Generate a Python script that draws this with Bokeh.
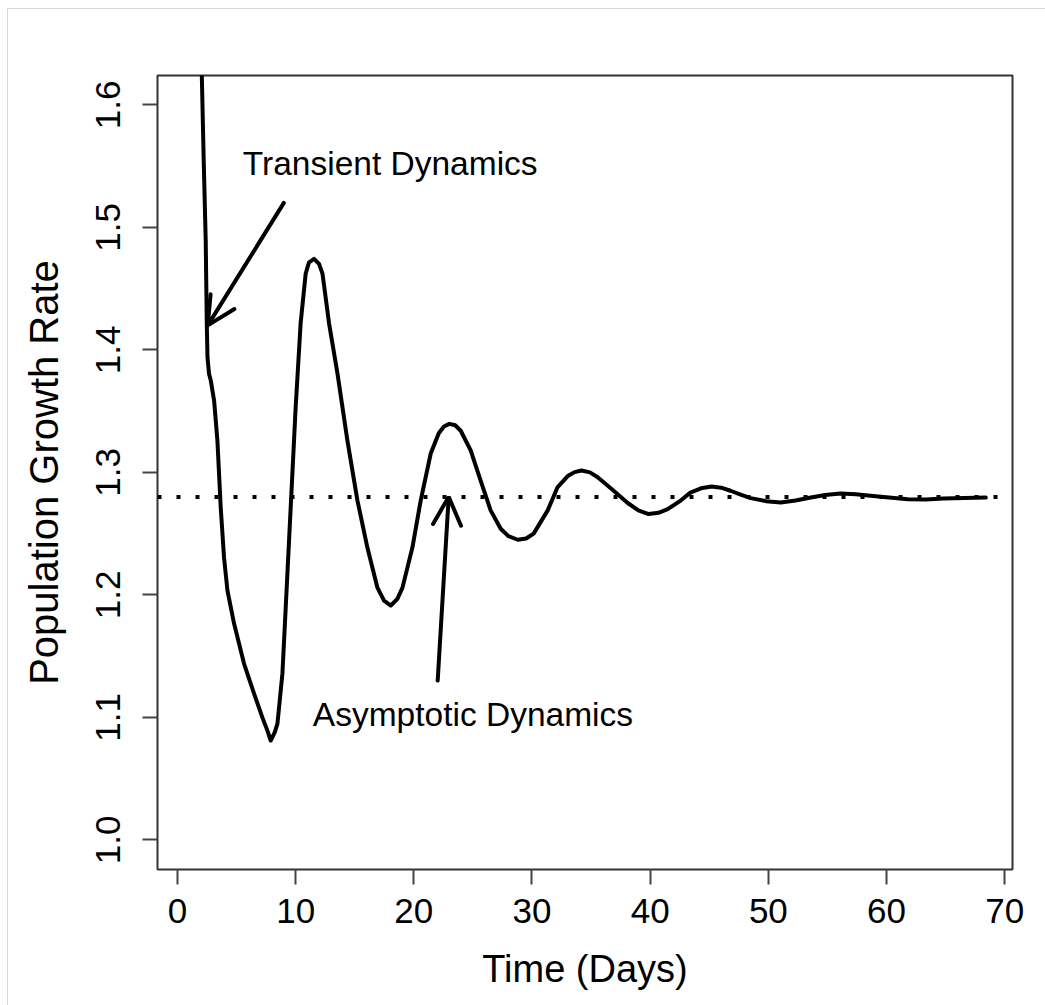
from bokeh.plotting import figure
from bokeh.models import Range1d, FixedTicker, Span, Arrow, OpenHead, ColumnDataSource
from bokeh.core.properties import value
from bokeh.embed import file_html
from bokeh.resources import INLINE

# ---- data ----
time_days = [1.0, 1.5, 2.0, 2.06, 2.22, 2.39, 2.48, 2.54, 2.67, 2.82, 3.10, 3.38, 3.66,
             3.94, 4.23, 4.79, 5.63, 6.48, 7.19, 7.61, 7.89, 8.23, 8.46, 8.88, 9.16,
             9.58, 10.0, 10.42, 10.85, 11.13, 11.56, 11.98, 12.27, 12.83, 13.54, 14.38,
             15.23, 16.07, 16.92, 17.48, 18.05, 18.61, 19.04, 19.88, 20.58, 21.43,
             22.11, 22.55, 23.0, 23.5, 23.97, 24.81, 25.66, 26.5, 27.35, 28.0, 28.79,
             29.5, 30.14, 31.33, 32.17, 33.02, 33.6, 34.2, 34.9, 35.56, 36.91, 38.1,
             39.0, 39.87, 40.7, 41.48, 42.58, 43.4, 44.3, 45.2, 46.0, 46.8, 47.6, 48.5,
             49.8, 51.05, 52.3, 53.6, 54.8, 56.1, 57.4, 58.65, 60.2, 61.8, 63.3, 64.8,
             66.6, 68.4]
growth_rate = [2.40, 1.95, 1.66, 1.624, 1.5545, 1.4892, 1.4215, 1.394, 1.3806, 1.3749,
               1.3586, 1.326, 1.2713, 1.2304, 1.2035, 1.1766, 1.1439, 1.1194, 1.0998,
               1.0892, 1.0811, 1.0878, 1.0949, 1.1357, 1.1897, 1.2713, 1.3529, 1.4215,
               1.4623, 1.4715, 1.4743, 1.4702, 1.4623, 1.4215, 1.3806, 1.3259, 1.277,
               1.2386, 1.2059, 1.1953, 1.1913, 1.1967, 1.2059, 1.2386, 1.277, 1.3154,
               1.332, 1.3375, 1.3396, 1.3385, 1.334, 1.318, 1.293, 1.269, 1.254, 1.248,
               1.245, 1.246, 1.25, 1.269, 1.288, 1.297, 1.3002, 1.3015, 1.3, 1.296,
               1.285, 1.275, 1.269, 1.266, 1.267, 1.27, 1.277, 1.2835, 1.287, 1.2884,
               1.2875, 1.285, 1.282, 1.279, 1.2765, 1.2754, 1.277, 1.2795, 1.2815,
               1.2827, 1.2822, 1.281, 1.2795, 1.278, 1.2778, 1.2786, 1.279, 1.2794]
asymptotic_rate = 1.28

x_ticks = [0, 10, 20, 30, 40, 50, 60, 70]
y_ticks = [1.0, 1.1, 1.2, 1.3, 1.4, 1.5, 1.6]

notes = ["Transient Dynamics", "Asymptotic Dynamics"]
note_x = [18, 25]
note_y = [1.552, 1.102]

# arrows: (x_start, y_start, x_end, y_end)
arrow_transient = (9.0, 1.52, 2.56, 1.42)
arrow_asymptotic = (22.02, 1.13, 22.95, 1.28)

FONT = "Liberation Sans"

p = figure(width=1045, height=1005, output_backend="svg", toolbar_location=None,
           x_range=Range1d(-1.69, 70.66), y_range=Range1d(0.9758, 1.624),
           min_border_left=157, min_border_right=33, min_border_top=75,
           min_border_bottom=136)
p.styles = {"background": "linear-gradient(#d9d9d9, #d9d9d9) 7px 8px / 1px calc(100% - 8px) no-repeat, "
                          "linear-gradient(#d9d9d9, #d9d9d9) 7px 8px / calc(100% - 7px) 1px no-repeat, "
                          "#ffffff"}

p.background_fill_color = "white"
p.border_fill_color = None
p.outline_line_color = "#333333"
p.outline_line_width = 2
p.xgrid.visible = False
p.ygrid.visible = False

p.xaxis.ticker = FixedTicker(ticks=x_ticks)
p.yaxis.ticker = FixedTicker(ticks=y_ticks)
p.yaxis.major_label_overrides = {v: f"{v:.1f}" for v in y_ticks}
for ax in (p.xaxis, p.yaxis):
    ax.axis_line_color = None
    ax.major_tick_out = 15
    ax.major_tick_in = 0
    ax.minor_tick_out = 0
    ax.minor_tick_in = 0
    ax.major_tick_line_color = "#444444"
    ax.major_tick_line_width = 2
    ax.major_label_text_font = FONT
    ax.major_label_text_font_size = "35px"
    ax.major_label_text_color = "black"
    ax.axis_label_text_font = FONT
    ax.axis_label_text_font_style = "normal"
    ax.axis_label_text_color = "black"

p.xaxis.axis_label = "Time (Days)"
p.yaxis.axis_label = "Population Growth Rate"
p.xaxis.axis_label_text_font_size = "38px"
p.yaxis.axis_label_text_font_size = "40px"
p.xaxis.major_label_standoff = 14
p.xaxis.axis_label_standoff = 22
p.yaxis.major_label_orientation = "vertical"
p.yaxis.major_label_standoff = 22
p.yaxis.axis_label_standoff = 28

# asymptotic growth rate (dotted)
p.add_layout(Span(location=asymptotic_rate, dimension="width", line_color="black",
                  line_width=4, line_dash="4 15"))

src = ColumnDataSource(dict(t=time_days, r=growth_rate))
p.line("t", "r", source=src, line_color="black", line_width=4, line_join="round",
       line_cap="round")

for (xs, ys, xe, ye) in (arrow_transient, arrow_asymptotic):
    p.add_layout(Arrow(x_start=xs, y_start=ys, x_end=xe, y_end=ye,
                       line_color="black", line_width=4, line_cap="round",
                       end=OpenHead(size=28, line_color="black", line_width=4,
                                    line_cap="round")))

tsrc = ColumnDataSource(dict(x=note_x, y=note_y, t=notes))
p.text("x", "y", text="t", source=tsrc, text_font=value(FONT), text_font_size="33.5px",
       text_align="center", text_baseline="middle", text_color="black")

open("out.html", "w").write(file_html(p, INLINE))
